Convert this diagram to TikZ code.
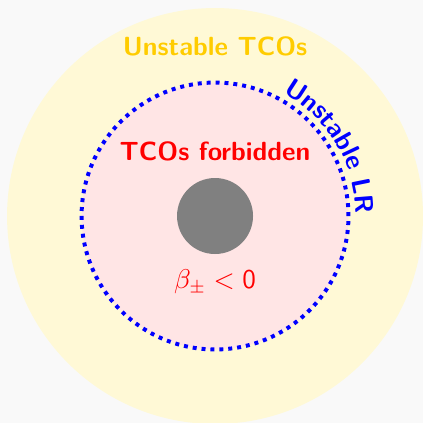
\documentclass[tikz,border=0pt]{standalone}
\usepackage{tikz}
\usetikzlibrary{decorations.text}
\definecolor{pagegray}{RGB}{249,249,249}
\definecolor{paleyellow}{RGB}{255,249,214}
\definecolor{palepink}{RGB}{255,229,229}
\definecolor{goldtext}{RGB}{255,204,0}
\renewcommand{\familydefault}{\sfdefault}
\newcommand{\lblsize}{\fontsize{10.6}{12.7}\selectfont}

\begin{document}
\begin{tikzpicture}[
  lbl/.style={font=\lblsize\sffamily\bfseries}
]

% page and frame
\fill[pagegray] (-3.05,-2.936) rectangle (2.95,3.064);
\useasboundingbox (-3.05,-2.936) rectangle (2.95,3.064);

% Unstable region
\fill[paleyellow] (0,0) circle (2.95);
\node[lbl, text=goldtext] (unstable) at (0,2.41) {Unstable TCOs};

% Forbidden region
\fill[palepink] (0,0) circle (1.893);
\draw[blue, line width=1.6pt, dotted] (0,0) circle (1.893);
\node[lbl, text=red] (forbidden) at (0,0.91) {TCOs forbidden};

% light ring label
\path[decorate, decoration={text along path, text align=center,
  text={|\lblsize\sffamily\bfseries\color{blue}|Unstable LR}}]
  (62:2.0) arc (62:0:2.0);

% black hole
\fill[gray] (0,0) circle (0.539);
\node[text=red, font=\lblsize] (beta) at (0,-0.94) {$\beta_\pm < \mathsf{0}$};

\end{tikzpicture}
\end{document}
